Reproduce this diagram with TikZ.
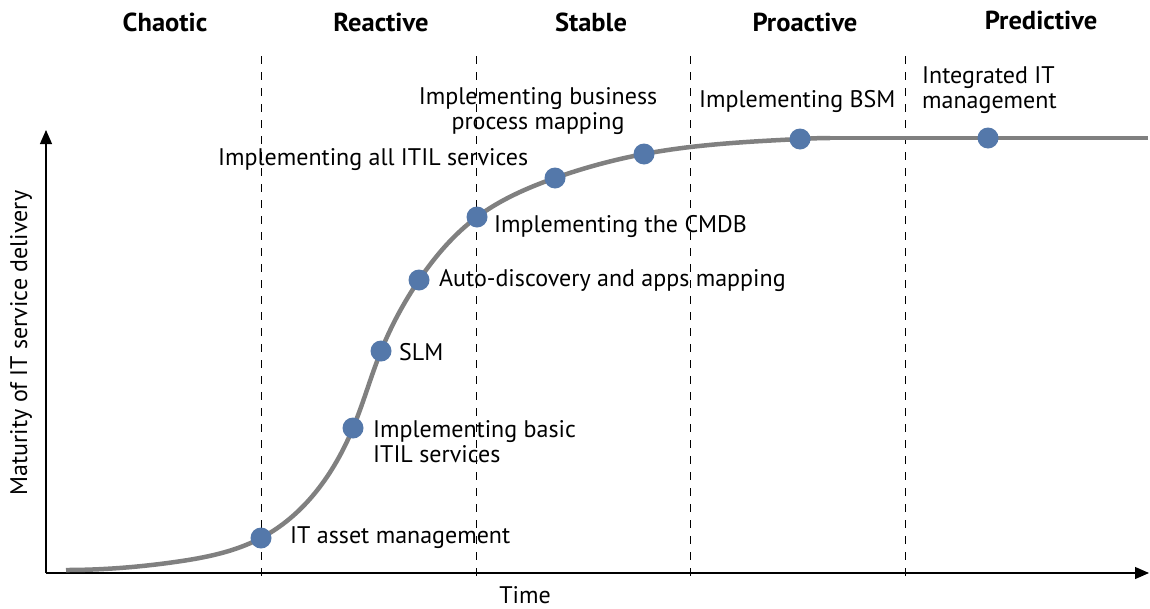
\documentclass[tikz,border=0pt]{standalone}
\usepackage{fontspec}
\setmainfont{PT Sans}
\newfontfamily\headfont[FakeStretch=1.02]{PT Sans}
\usetikzlibrary{arrows.meta,hobby}
\definecolor{curvegray}{RGB}{128,128,128}
\definecolor{dotblue}{RGB}{84,120,170}
\tikzset{
  axis/.style={line width=1.2pt, -{Triangle[length=14pt,width=12pt]}},
  phase/.style={dashed, dash pattern=on 8pt off 8pt, line width=1pt},
  curveline/.style={curvegray, line width=4.5pt},
  dot/.style={circle, fill=dotblue, inner sep=0pt, minimum size=21pt},
  lbl/.style={anchor=west, font=\fontsize{24}{25}\selectfont, inner sep=0pt, align=left},
  head/.style={font=\headfont\bfseries\fontsize{26}{28}\selectfont, inner sep=0pt},
}
\begin{document}
\begin{tikzpicture}[x=1pt,y=-1pt]
\useasboundingbox (0,0) rectangle (1150,608);
% phase separators
\coordinate (s1t) at (261,56); \coordinate (s1b) at (261,580);
\coordinate (s2t) at (476,56); \coordinate (s2b) at (476,580);
\coordinate (s3t) at (690,56); \coordinate (s3b) at (690,580);
\coordinate (s4t) at (905,56); \coordinate (s4b) at (905,580);
\foreach \i in {1,...,4} \draw[phase] (s\i t) -- (s\i b);
% axes
\coordinate (o) at (46,573);
\coordinate (ytop) at (46,130);
\coordinate (xend) at (1149,573);
\draw[axis] (o) -- (ytop);
\draw[axis] (o) -- (xend);
% curve points
\coordinate (c0) at (66,570);
\coordinate (c1) at (175,562);
\coordinate (p1) at (261,538);
\coordinate (p2) at (353,428);
\coordinate (p3) at (381,351);
\coordinate (p4) at (419,280);
\coordinate (p5) at (477,217);
\coordinate (p6) at (555,178);
\coordinate (p7) at (644,154);
\coordinate (p8) at (800,139);
\coordinate (c9) at (830,138);
\coordinate (p9) at (988,138);
\coordinate (cend) at (1148,138);
\draw[curveline, use Hobby shortcut] ([out angle=0]c0) .. (c1) .. (p1) .. (p2) .. (p3) .. (p4) .. (p5) .. (p6) .. (p7) .. (p8) .. ([in angle=180]c9);
\draw[curveline] (c9) -- (cend);
\foreach \i in {1,...,9} \node[dot] (d\i) at (p\i) {};
% labels
\node[lbl] (l1) at (290,538) {IT asset management};
\node[lbl, align=left] (l2) at (373,442) {Implementing basic\\ITIL services};
\node[lbl] (l3) at (399,352) {SLM};
\node[lbl] (l4) at (439,281) {Auto-discovery and apps mapping};
\node[lbl] (l5) at (494,226) {Implementing the CMDB};
\node[lbl] (l6) at (218,160) {Implementing all ITIL services};
\node[lbl, anchor=center, align=center] (l7) at (538,111) {Implementing business\\process mapping};
\node[lbl] (l8) at (699,101) {Implementing BSM};
\node[lbl] (l9) at (922,90) {Integrated IT\\management};
% axis titles
\node[font=\fontsize{24}{25}\selectfont, rotate=90, inner sep=0pt] (ylab) at (21,343) {Maturity of IT service delivery};
\node[font=\fontsize{24}{25}\selectfont, inner sep=0pt] (xlab) at (525,595) {Time};
% phase headings
\node[head] (h1) at (165,22) {Chaotic};
\node[head] (h2) at (381,22) {Reactive};
\node[head] (h3) at (591,22) {Stable};
\node[head] (h4) at (805,22) {Proactive};
\node[head] (h5) at (1041,20) {Predictive};
\end{tikzpicture}
\end{document}
